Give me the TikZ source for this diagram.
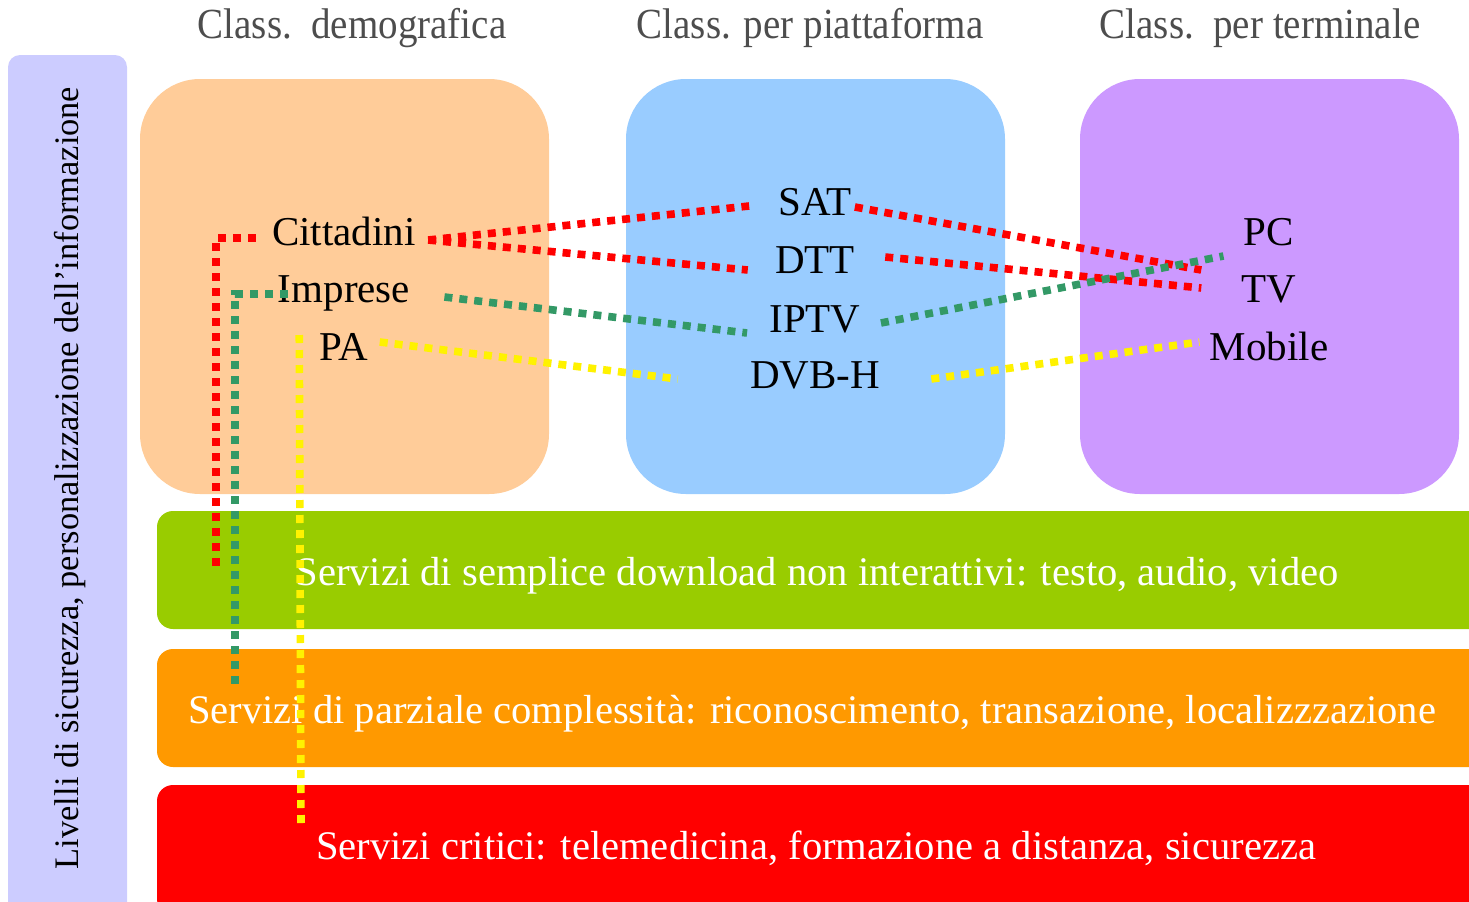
\documentclass[tikz,border=0pt]{standalone}
\usepackage{fontspec}
\setmainfont{Liberation Serif}
\definecolor{lav}{HTML}{CCCCFF}
\definecolor{peach}{HTML}{FFCC99}
\definecolor{sky}{HTML}{99CCFF}
\definecolor{lilac}{HTML}{CC99FF}
\definecolor{lime}{HTML}{99CC00}
\definecolor{amber}{HTML}{FF9900}
\definecolor{dotgreen}{HTML}{339966}
\definecolor{hdrgray}{HTML}{4D4D4D}
\tikzset{
  lbl/.style={inner sep=0pt, anchor=base, text height=0.7em, text depth=0.2em, font=\fontsize{20.5}{24}\selectfont},
  hdr/.style={inner sep=0pt, anchor=base, text=hdrgray, yscale=1.1, font=\fontsize{19.5}{22}\selectfont},
  bartext/.style={inner sep=0pt, anchor=base, text=white, font=\fontsize{20.3}{24}\selectfont},
  dotline/.style={line width=3.8pt, dash pattern=on 4pt off 3.5pt, line cap=butt},
  rd/.style={dotline, draw=red},
  gd/.style={dotline, draw=dotgreen},
  yd/.style={dotline, draw=yellow}
}
\begin{document}
\begin{tikzpicture}[x=0.5pt, y=-0.5pt]
\useasboundingbox (0,0) rectangle (1469,901);
\clip (0,0) rectangle (1469,901);
% side bar
\fill[lav, rounded corners=6pt] (8,55) rectangle (127,915);
\node[rotate=90, inner sep=0pt, font=\fontsize{17.2}{20}\selectfont] (side) at (70,478) {Livelli di sicurezza, personalizzazione dell’informazione};
% category boxes
\fill[peach, rounded corners=30pt] (140,79) rectangle (549,494);
\fill[sky, rounded corners=30pt] (626,79) rectangle (1005,494);
\fill[lilac, rounded corners=30pt] (1080,79) rectangle (1459,494);
% bars
\fill[lime, rounded corners=8pt] (157,511) rectangle (1490,629);
\fill[amber, rounded corners=8pt] (157,649) rectangle (1490,767);
\fill[red, rounded corners=8pt] (157,785) rectangle (1490,915);
% headers
\node[hdr] (h1) at (352,38) {Class.\ \ demografica};
\node[hdr] (h2) at (810,38) {Class. per piattaforma};
\node[hdr] (h3) at (1260,38) {Class.\ \ per terminale};
% labels
\node[lbl] (cit) at (344,245) {Cittadini};
\node[lbl] (imp) at (344,302) {Imprese};
\node[lbl] (pa) at (344,360) {PA};
\node[lbl] (sat) at (815,215) {SAT};
\node[lbl] (dtt) at (815,273) {DTT};
\node[lbl] (iptv) at (815,332) {IPTV};
\node[lbl] (dvbh) at (815,388) {DVB-H};
\node[lbl] (pc) at (1269,245) {PC};
\node[lbl] (tv) at (1269,302) {TV};
\node[lbl] (mob) at (1269,360) {Mobile};
% bar texts
\node[bartext] (b1) at (817,585) {Servizi di semplice download non interattivi: testo, audio, video};
\node[bartext] (b2) at (812,723) {Servizi di parziale complessità: riconoscimento, transazione, localizzzazione};
\node[bartext] (b3) at (816,859) {Servizi critici: telemedicina, formazione a distanza, sicurezza};
% free ends
\coordinate (redEnd) at (216,568);
\coordinate (greenEnd) at (235,685);
\coordinate (yellowEnd) at (301,826);
% red connectors
\draw[rd] ([xshift=-8pt,yshift=1pt]cit.west) -| (redEnd);
\draw[rd] ([xshift=6pt]cit.east) -- ([xshift=-14.5pt,yshift=2pt]sat.west);
\draw[rd] ([xshift=6pt]cit.east) -- ([xshift=-13.5pt,yshift=-1pt]dtt.west);
\draw[rd] ([xshift=1.5pt,yshift=1.5pt]sat.east) -- ([xshift=-20pt,yshift=13.5pt]tv.west);
\draw[rd] ([xshift=15pt,yshift=5.5pt]dtt.east) -- ([xshift=-20pt,yshift=4.5pt]tv.west);
% green connectors
\draw[gd] ([xshift=5pt,yshift=1.5pt]imp.west) -| (greenEnd);
\draw[gd] ([xshift=17pt]imp.east) -- ([xshift=-11pt,yshift=-3pt]iptv.west);
\draw[gd] ([xshift=10pt,yshift=2pt]iptv.east) -- ([xshift=-10pt,yshift=-8pt]pc.west);
% yellow connectors
\draw[yd] ([xshift=-10pt,yshift=10pt]pa.west) -- (yellowEnd);
\draw[yd] ([xshift=5.5pt,yshift=6.5pt]pa.east) -- ([xshift=-36pt,yshift=2pt]dvbh.west);
\draw[yd] ([xshift=25.5pt,yshift=2pt]dvbh.east) -- ([xshift=-5pt,yshift=6.5pt]mob.west);
\end{tikzpicture}
\end{document}
